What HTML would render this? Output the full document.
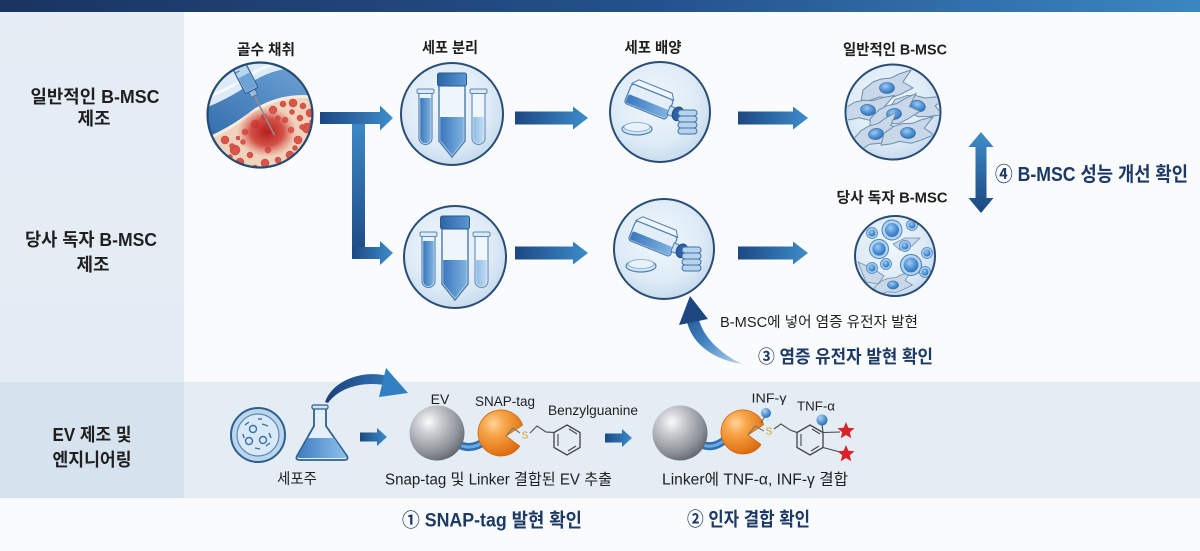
<!DOCTYPE html>
<html><head><meta charset="utf-8"><title>B-MSC EV</title>
<style>
html,body{margin:0;padding:0;background:#fafbfc;width:1200px;height:551px;overflow:hidden}
svg{display:block}
text{font-family:"Liberation Sans","Noto Sans CJK KR",sans-serif}
.b{font-weight:700}
.lbl{fill:#1f1f1f}
.nv{fill:#1d3a66;font-weight:700}
</style></head><body>
<svg width="1200" height="551" viewBox="0 0 1200 551" xmlns="http://www.w3.org/2000/svg" xmlns:xlink="http://www.w3.org/1999/xlink">
<defs>
<linearGradient id="topbar" x1="0" x2="1" y1="0" y2="0"><stop offset="0" stop-color="#1a3461"/><stop offset="0.55" stop-color="#24528c"/><stop offset="1" stop-color="#3b87c1"/></linearGradient>
<linearGradient id="lp" x1="0" x2="0" y1="0" y2="1"><stop offset="0" stop-color="#e6edf5"/><stop offset="1" stop-color="#e3ebf4"/></linearGradient>
<radialGradient id="cf" cx="0.45" cy="0.4" r="0.6"><stop offset="0" stop-color="#f1f7fc"/><stop offset="0.7" stop-color="#deebf6"/><stop offset="1" stop-color="#c8dcee"/></radialGradient>
<linearGradient id="ah" x1="0" x2="1" y1="0" y2="0"><stop offset="0" stop-color="#1c4883"/><stop offset="1" stop-color="#3d8dcb"/></linearGradient>
<linearGradient id="av" x1="0" x2="0" y1="0" y2="1"><stop offset="0" stop-color="#3f8cc8"/><stop offset="1" stop-color="#1d4b86"/></linearGradient>
<linearGradient id="dbl" x1="0" x2="0" y1="0" y2="1"><stop offset="0" stop-color="#3f8dc9"/><stop offset="1" stop-color="#1b4780"/></linearGradient>
<radialGradient id="sph" cx="0.35" cy="0.3" r="0.75"><stop offset="0" stop-color="#fbfbfb"/><stop offset="0.3" stop-color="#c9ccd0"/><stop offset="0.75" stop-color="#8d9198"/><stop offset="1" stop-color="#62666d"/></radialGradient>
<radialGradient id="org" cx="0.35" cy="0.3" r="0.75"><stop offset="0" stop-color="#ffd49a"/><stop offset="0.35" stop-color="#f7a447"/><stop offset="1" stop-color="#dc6a0c"/></radialGradient>
<radialGradient id="nuc" cx="0.4" cy="0.35" r="0.7"><stop offset="0" stop-color="#9ccaf0"/><stop offset="0.6" stop-color="#4c8fd3"/><stop offset="1" stop-color="#2f6fb5"/></radialGradient>
<radialGradient id="ball" cx="0.35" cy="0.3" r="0.7"><stop offset="0" stop-color="#a9d3f5"/><stop offset="1" stop-color="#2b6fb8"/></radialGradient>
<linearGradient id="liq" x1="0" x2="1"><stop offset="0" stop-color="#3b78bd"/><stop offset="1" stop-color="#7fb2e0"/></linearGradient>
<linearGradient id="liq2" x1="0" x2="1"><stop offset="0" stop-color="#8fbde6"/><stop offset="1" stop-color="#c4dcf2"/></linearGradient>
<linearGradient id="cap" x1="0" x2="1"><stop offset="0" stop-color="#2d64a8"/><stop offset="1" stop-color="#5a97d2"/></linearGradient>
<linearGradient id="band" x1="0" y1="1" x2="1" y2="0"><stop offset="0" stop-color="#2f6aa9"/><stop offset="1" stop-color="#6fa5d8"/></linearGradient>
<radialGradient id="blot" cx="0.5" cy="0.5" r="0.5"><stop offset="0" stop-color="#b51d1a"/><stop offset="0.55" stop-color="#cc3a33" stop-opacity="0.85"/><stop offset="1" stop-color="#e06a5a" stop-opacity="0"/></radialGradient>
<linearGradient id="curv3" gradientUnits="userSpaceOnUse" x1="742" y1="364" x2="688" y2="300"><stop offset="0" stop-color="#b5d3ee"/><stop offset="0.5" stop-color="#3f83c2"/><stop offset="1" stop-color="#1c4680"/></linearGradient>
<linearGradient id="curvB" gradientUnits="userSpaceOnUse" x1="325" y1="400" x2="408" y2="390"><stop offset="0" stop-color="#1c3f78"/><stop offset="1" stop-color="#3583c4"/></linearGradient>
<linearGradient id="flq" x1="0" x2="1"><stop offset="0" stop-color="#3f7dc2"/><stop offset="1" stop-color="#8ec0ea"/></linearGradient>

<path id="star" d="M0,-9 L2.35,-3.24 L8.56,-2.78 L3.8,1.24 L5.29,7.28 L0,4 L-5.29,7.28 L-3.8,1.24 L-8.56,-2.78 L-2.35,-3.24 Z" fill="#d8232a"/>

<clipPath id="cpBone"><circle cx="260" cy="115" r="52"/></clipPath>
<clipPath id="cpCell"><circle cx="893" cy="112" r="46"/></clipPath>
<clipPath id="cpCus"><circle cx="895" cy="256" r="39"/></clipPath>

<g id="tubes">
 <circle r="51" fill="url(#cf)" stroke="#2a4d76" stroke-width="2"/>
 <path d="M-33,-21 L-33,24 A6.5,6.5 0 0 0 -20,24 L-20,-21 Z" fill="#eaf3fb" stroke="#5a86b3" stroke-width="1.2"/>
 <path d="M-31.8,-16 L-31.8,24 A5.3,5.3 0 0 0 -21.2,24 L-21.2,-16 Z" fill="url(#liq)"/>
 <rect x="-35" y="-25" width="17" height="4.5" rx="1.5" fill="#dce9f5" stroke="#5a86b3" stroke-width="1"/>
 <path d="M20,-21 L20,24 A6.5,6.5 0 0 0 33,24 L33,-21 Z" fill="#eef5fb" stroke="#6a93bd" stroke-width="1.2"/>
 <path d="M21.2,3 L21.2,24 A5.3,5.3 0 0 0 31.8,24 L31.8,3 Z" fill="url(#liq2)"/>
 <rect x="18" y="-25" width="17" height="4.5" rx="1.5" fill="#dce9f5" stroke="#5a86b3" stroke-width="1"/>
 <path d="M-13,-29 L-13,27 L0,43 L13,27 L13,-29 Z" fill="#eef5fb" stroke="#4a79aa" stroke-width="1.4"/>
 <path d="M-11.8,3 L-11.8,26.5 L0,41 L11.8,26.5 L11.8,3 Z" fill="url(#liq)"/>
 <rect x="-14.5" y="-41" width="29" height="13" rx="2" fill="url(#cap)" stroke="#2c5a8c" stroke-width="1"/>
</g>

<g id="culture">
 <circle r="50" fill="url(#cf)" stroke="#2a4d76" stroke-width="2"/>
 <g transform="translate(-9,-9) rotate(22)">
  <path d="M-25,-11 L-20,-17 L16,-17 L20,-11 Z" fill="#eef5fc" stroke="#4f7fb0" stroke-width="1"/>
  <rect x="-25" y="-11" width="45" height="21" rx="3" fill="#e3eef9" stroke="#4f7fb0" stroke-width="1.2"/>
  <rect x="-24" y="0" width="43" height="9" rx="2" fill="url(#liq)"/>
  <rect x="19" y="-4.5" width="7" height="9" fill="#cfe1f3" stroke="#4f7fb0" stroke-width="1"/>
  <ellipse cx="29" cy="0" rx="5.5" ry="7" fill="#2d62a6" stroke="#1f4a80" stroke-width="1"/>
 </g>
 <ellipse cx="-23" cy="17" rx="15" ry="6" fill="#d3e5f5" stroke="#4f7fb0" stroke-width="1.2"/>
 <ellipse cx="-23" cy="15" rx="13" ry="4.5" fill="#e8f2fb" stroke="#7ea6cc" stroke-width="0.8"/>
 <rect x="18" y="-2" width="19" height="6" rx="3" fill="#b8d3ed" stroke="#3f70a5" stroke-width="1"/>
 <rect x="18" y="4" width="19" height="6" rx="3" fill="#b8d3ed" stroke="#3f70a5" stroke-width="1"/>
 <rect x="18" y="10" width="19" height="6" rx="3" fill="#b8d3ed" stroke="#3f70a5" stroke-width="1"/>
 <rect x="18" y="16" width="19" height="6" rx="3" fill="#b8d3ed" stroke="#3f70a5" stroke-width="1"/>
</g>

<g id="cell">
 <path d="M-24,2 L-14,-6 L-6,-9 L4,-10 L12,-14 L24,-18 L16,-6 L26,0 L14,6 L4,10 L-8,9 L-16,12 L-26,14 Z" fill="#c8d8e8" stroke="#6f8eae" stroke-width="1"/>
 <ellipse rx="7.5" ry="5.5" fill="url(#nuc)" stroke="#2f64a3" stroke-width="0.6"/>
</g>
<g id="rcell">
 <circle r="10" fill="#b3d3f1" stroke="#4a82be" stroke-width="1"/>
 <circle r="7" fill="url(#nuc)"/>
</g>
<g id="scell">
 <circle r="5.5" fill="#a9cdef" stroke="#4a82be" stroke-width="0.8"/>
 <circle r="3.5" fill="url(#nuc)"/>
</g>
</defs>

<!-- backgrounds -->
<rect x="0" y="0" width="1200" height="551" fill="#fafbfc"/>
<rect x="0" y="12" width="184" height="370" fill="url(#lp)"/>
<rect x="184" y="382" width="1016" height="116" fill="#e4ecf4"/>
<rect x="0" y="382" width="184" height="116" fill="#d6e3ee"/>
<rect x="0" y="0" width="1200" height="12" fill="url(#topbar)"/>

<!-- left labels -->
<text class="b lbl" x="95" y="97" font-size="18" text-anchor="middle" dominant-baseline="central" textLength="129" lengthAdjust="spacingAndGlyphs">일반적인 B-MSC</text>
<text class="b lbl" x="94" y="119" font-size="18" text-anchor="middle" dominant-baseline="central">제조</text>
<text class="b lbl" x="91" y="240" font-size="18" text-anchor="middle" dominant-baseline="central" textLength="132" lengthAdjust="spacingAndGlyphs">당사 독자 B-MSC</text>
<text class="b lbl" x="93" y="265" font-size="18" text-anchor="middle" dominant-baseline="central">제조</text>
<text class="b lbl" x="92" y="435" font-size="18" text-anchor="middle" dominant-baseline="central" textLength="79" lengthAdjust="spacingAndGlyphs">EV 제조 및</text>
<text class="b lbl" x="92" y="460" font-size="18" text-anchor="middle" dominant-baseline="central" textLength="79" lengthAdjust="spacingAndGlyphs">엔지니어링</text>

<!-- step labels -->
<text class="b lbl" x="266" y="50" font-size="15" text-anchor="middle" dominant-baseline="central" textLength="58" lengthAdjust="spacingAndGlyphs">골수 채취</text>
<text class="b lbl" x="450" y="48" font-size="15" text-anchor="middle" dominant-baseline="central" textLength="56" lengthAdjust="spacingAndGlyphs">세포 분리</text>
<text class="b lbl" x="653" y="48" font-size="15" text-anchor="middle" dominant-baseline="central" textLength="57" lengthAdjust="spacingAndGlyphs">세포 배양</text>
<text class="b lbl" x="895" y="50" font-size="15" text-anchor="middle" dominant-baseline="central" textLength="104" lengthAdjust="spacingAndGlyphs">일반적인 B-MSC</text>
<text class="b lbl" x="892" y="198" font-size="15" text-anchor="middle" dominant-baseline="central" textLength="111" lengthAdjust="spacingAndGlyphs">당사 독자 B-MSC</text>

<!-- bone marrow circle -->
<circle cx="260" cy="115" r="53" fill="#dcebf7"/>
<g clip-path="url(#cpBone)">
 <rect x="205" y="60" width="110" height="110" fill="#dcebf7"/>
 <path d="M200,100 Q232,88 255,72 Q282,57 320,61" fill="none" stroke="#f4f9fd" stroke-width="3"/>
 <path d="M200,142 Q230,130 255,110 Q285,92 320,98 L320,175 L200,175 Z" fill="#f0d3bd"/>
 <path d="M200,110 Q232,98 255,80 Q282,64 320,68 L320,98 Q285,92 255,110 Q230,130 200,142 Z" fill="url(#band)"/>
 <path d="M200,142 Q230,130 255,110 Q285,92 320,98" fill="none" stroke="#f7ecdf" stroke-width="3"/>
 <g fill="#d9554a" stroke="#c0403a" stroke-width="0.5">
  <circle cx="225" cy="140" r="4"/><circle cx="235" cy="150" r="5"/><circle cx="222" cy="155" r="3"/>
  <circle cx="240" cy="162" r="4"/><circle cx="250" cy="155" r="3"/><circle cx="228" cy="165" r="3"/>
  <circle cx="245" cy="132" r="3"/><circle cx="255" cy="124" r="4"/><circle cx="264" cy="117" r="3"/>
  <circle cx="273" cy="110" r="4"/><circle cx="283" cy="104" r="3"/><circle cx="293" cy="103" r="4"/>
  <circle cx="303" cy="106" r="3"/><circle cx="310" cy="113" r="4"/><circle cx="300" cy="118" r="3"/>
  <circle cx="307" cy="128" r="5"/><circle cx="298" cy="140" r="4"/><circle cx="305" cy="150" r="3"/>
  <circle cx="290" cy="155" r="4"/><circle cx="278" cy="160" r="3"/><circle cx="265" cy="163" r="4"/>
  <circle cx="255" cy="168" r="3"/><circle cx="285" cy="120" r="3"/><circle cx="232" cy="146" r="2.5"/>
  <circle cx="300" cy="160" r="3"/><circle cx="215" cy="150" r="3"/><circle cx="268" cy="150" r="3"/>
  <circle cx="291" cy="130" r="3"/><circle cx="312" cy="140" r="3"/><circle cx="243" cy="142" r="2.5"/>
  <circle cx="218" cy="162" r="2.5"/><circle cx="230" cy="157" r="2.5"/><circle cx="248" cy="170" r="3"/>
  <circle cx="262" cy="172" r="2.5"/><circle cx="274" cy="168" r="3"/><circle cx="286" cy="165" r="2.5"/>
  <circle cx="295" cy="148" r="2.5"/><circle cx="312" cy="122" r="2.5"/><circle cx="315" cy="132" r="2.5"/>
  <circle cx="292" cy="112" r="2.5"/><circle cx="278" cy="118" r="2.5"/><circle cx="302" cy="127" r="2.5"/>
  <circle cx="210" cy="146" r="2.5"/><circle cx="238" cy="138" r="2"/><circle cx="306" cy="158" r="2.5"/>
 </g>
 <ellipse cx="267" cy="132" rx="30" ry="25" fill="url(#blot)"/>
 <g transform="translate(254,95) rotate(-27)">
  <line x1="0" y1="0" x2="0" y2="45" stroke="#8a8f96" stroke-width="1.6"/>
  <rect x="-3.5" y="-6" width="7" height="7" fill="#9ab9da" stroke="#3b6a9e" stroke-width="0.8"/>
  <rect x="-7" y="-48" width="14" height="43" rx="1.5" fill="#b9d5ef" stroke="#2f5f95" stroke-width="1.2"/>
  <rect x="-6" y="-22" width="12" height="16" fill="#6fa3d6"/>
  <g stroke="#2f5f95" stroke-width="0.8"><line x1="-7" y1="-40" x2="-2" y2="-40"/><line x1="-7" y1="-34" x2="-2" y2="-34"/><line x1="-7" y1="-28" x2="-2" y2="-28"/></g>
 </g>
</g>
<circle cx="260" cy="115" r="52.5" fill="none" stroke="#274a72" stroke-width="2.2"/>

<!-- tubes & culture -->
<use xlink:href="#tubes" x="452" y="114"/>
<use xlink:href="#tubes" x="455" y="257"/>
<use xlink:href="#culture" x="660" y="112"/>
<use xlink:href="#culture" x="664" y="249"/>

<!-- normal B-MSC cells -->
<circle cx="893" cy="112" r="47.5" fill="url(#cf)"/>
<g clip-path="url(#cpCell)">
 <use xlink:href="#cell" transform="translate(887,88)"/>
 <use xlink:href="#cell" transform="translate(918,106) rotate(20)"/>
 <use xlink:href="#cell" transform="translate(868,110) rotate(8)"/>
 <use xlink:href="#cell" transform="translate(894,114) rotate(-6)"/>
 <use xlink:href="#cell" transform="translate(876,134) rotate(-10)"/>
 <use xlink:href="#cell" transform="translate(908,133) rotate(4)"/>
</g>
<circle cx="893" cy="112" r="47.5" fill="none" stroke="#2a4d76" stroke-width="2"/>

<!-- custom B-MSC cells -->
<circle cx="895" cy="256" r="40" fill="url(#cf)"/>
<g clip-path="url(#cpCus)">
 <path d="M893,244 L905,238 L920,238 L912,246 L900,250 Z" fill="#c8d8e8" stroke="#6f8eae" stroke-width="0.8"/>
 <path d="M858,262 L872,268 L884,276 L878,284 L866,282 Z" fill="#c8d8e8" stroke="#6f8eae" stroke-width="0.8"/>
 <use xlink:href="#cell" transform="translate(893,285) scale(0.75)"/>
 <use xlink:href="#rcell" transform="translate(892,230)"/>
 <use xlink:href="#rcell" transform="translate(879,249) scale(0.95)"/>
 <use xlink:href="#rcell" transform="translate(911,265) scale(1.05)"/>
 <use xlink:href="#scell" transform="translate(872,233)"/>
 <use xlink:href="#scell" transform="translate(912,225)"/>
 <use xlink:href="#scell" transform="translate(927,253)"/>
 <use xlink:href="#scell" transform="translate(886,264)"/>
 <use xlink:href="#scell" transform="translate(872,268)"/>
 <use xlink:href="#scell" transform="translate(905,246)"/>
 <use xlink:href="#scell" transform="translate(925,272)"/>
</g>
<circle cx="895" cy="256" r="40" fill="none" stroke="#2a4d76" stroke-width="2"/>

<!-- T-arrow -->
<rect x="352" y="118" width="13" height="135" fill="url(#av)"/>
<path d="M320,112 L380,112 L380,105.5 L393,118 L380,130.5 L380,124 L320,124 Z" fill="url(#ah)"/>
<path d="M352,247 L380,247 L380,241 L393,253 L380,265 L380,259 L352,259 Z" fill="url(#ah)"/>

<!-- row arrows -->
<path d="M515,111.5 L573,111.5 L573,106.5 L588,118 L573,129.5 L573,124.5 L515,124.5 Z" fill="url(#ah)"/>
<path d="M738,111.5 L793,111.5 L793,106.5 L808,118 L793,129.5 L793,124.5 L738,124.5 Z" fill="url(#ah)"/>
<path d="M515,246.5 L573,246.5 L573,241.5 L588,253 L573,264.5 L573,259.5 L515,259.5 Z" fill="url(#ah)"/>
<path d="M738,246.5 L793,246.5 L793,241.5 L808,253 L793,264.5 L793,259.5 L738,259.5 Z" fill="url(#ah)"/>

<!-- double arrow -->
<path d="M981,132 L993.5,147 L986.5,147 L986.5,198 L993.5,198 L981,213 L968.5,198 L975.5,198 L975.5,147 L968.5,147 Z" fill="url(#dbl)"/>
<text class="nv" x="995" y="175" font-size="20" dominant-baseline="central" textLength="193" lengthAdjust="spacingAndGlyphs">④ B-MSC 성능 개선 확인</text>

<!-- curved arrow 3 -->
<path d="M742,364 C716,360 693,346 687,322 L699,320 C704,338 721,354 742,364 Z" fill="url(#curv3)"/>
<path d="M679,325 L690,296 L708,319 Z" fill="#1d4781"/>
<text class="lbl" x="720" y="323" font-size="14.5" dominant-baseline="central" textLength="198" lengthAdjust="spacingAndGlyphs">B-MSC에 넣어 염증 유전자 발현</text>
<text class="nv" x="758" y="357" font-size="18" dominant-baseline="central" textLength="175" lengthAdjust="spacingAndGlyphs">③ 염증 유전자 발현 확인</text>

<!-- bottom: petri + flask -->
<circle cx="258" cy="435" r="27" fill="#bcd6ee" stroke="#2f5f90" stroke-width="2"/>
<circle cx="258" cy="435" r="21" fill="#d9e9f7" stroke="#5a88b5" stroke-width="1.2"/>
<g fill="none" stroke="#3b6fa5" stroke-width="1.4">
 <circle cx="253" cy="429" r="3.5"/><circle cx="249" cy="441" r="3.5"/><circle cx="263" cy="440" r="3.5"/>
 <line x1="245" y1="425" x2="249" y2="422"/><line x1="262" y1="424" x2="268" y2="426"/><line x1="269" y1="433" x2="271" y2="438"/>
 <line x1="243" y1="434" x2="244" y2="438"/><line x1="255" y1="448" x2="260" y2="449"/><line x1="266" y1="446" x2="270" y2="443"/>
 <line x1="258" y1="419" x2="262" y2="419"/>
</g>
<path d="M314,408 L326,408 L326,426 L347,456 Q349,460 344,460 L300,460 Q295,460 297,456 L314,426 Z" fill="#e4eff9" stroke="#2f5f90" stroke-width="1.8"/>
<path d="M308,438 L334,438 L346,456 Q347,458 344,458 L300,458 Q297,458 298,456 Z" fill="url(#flq)"/>
<rect x="312" y="405" width="16" height="4" rx="1.5" fill="#cfe1f3" stroke="#2f5f90" stroke-width="1.2"/>
<text class="lbl" x="297" y="479" font-size="15" text-anchor="middle" dominant-baseline="central" textLength="40" lengthAdjust="spacingAndGlyphs">세포주</text>

<!-- curved arrow bottom -->
<path d="M325,402 C332,382 360,369 388,376 L390,386 C362,380 339,388 328,403 Z" fill="url(#curvB)"/>
<path d="M386,368 L408,393 L379,397 Z" fill="#3180c2"/>

<!-- small arrows -->
<path d="M360,432.5 L377,432.5 L377,428 L387,437 L377,446 L377,441.5 L360,441.5 Z" fill="url(#ah)"/>
<path d="M605,433.5 L622,433.5 L622,429 L632,438 L622,447 L622,442.5 L605,442.5 Z" fill="url(#ah)"/>

<!-- EV construct 1 -->
<path d="M456,443 Q470,452 485,441" fill="none" stroke="#2f6fb3" stroke-width="8" stroke-linecap="round"/>
<path d="M456,443 Q470,452 485,441" fill="none" stroke="#6fa8df" stroke-width="3" stroke-linecap="round"/>
<circle cx="437" cy="433" r="27.5" fill="url(#sph)"/>
<path d="M522.6,425.1 A23,23 0 1 0 519.8,446.2 L506,436 Z" fill="url(#org)" stroke="#cf640c" stroke-width="0.8"/>
<polyline points="506,436 513,428 520,433" fill="none" stroke="#7a7a6a" stroke-width="1.2"/>
<text x="525" y="436" font-size="10" fill="#c9a227" text-anchor="middle" dominant-baseline="central">S</text>
<polyline points="530,433 537,426 546,432 554,432.5" fill="none" stroke="#555" stroke-width="1.2"/>
<polygon points="567,425 580,432.5 580,447.5 567,455 554,447.5 554,432.5" fill="none" stroke="#444" stroke-width="1.3"/>
<g stroke="#444" stroke-width="1.1"><line x1="569" y1="429" x2="577" y2="434"/><line x1="576" y1="446" x2="568" y2="451"/><line x1="558" y1="446" x2="558" y2="434"/></g>
<text class="lbl" x="440" y="399" font-size="14" text-anchor="middle" dominant-baseline="central">EV</text>
<text class="lbl" x="505" y="401" font-size="14" text-anchor="middle" dominant-baseline="central" textLength="60" lengthAdjust="spacingAndGlyphs">SNAP-tag</text>
<text class="lbl" x="593" y="410" font-size="14" text-anchor="middle" dominant-baseline="central" textLength="90" lengthAdjust="spacingAndGlyphs">Benzylguanine</text>
<text class="lbl" x="385" y="480" font-size="15.5" dominant-baseline="central" textLength="227" lengthAdjust="spacingAndGlyphs">Snap-tag 및 Linker 결합된 EV 추출</text>

<!-- EV construct 2 -->
<path d="M699,443 Q712,451 726,439" fill="none" stroke="#2f6fb3" stroke-width="8" stroke-linecap="round"/>
<path d="M699,443 Q712,451 726,439" fill="none" stroke="#6fa8df" stroke-width="3" stroke-linecap="round"/>
<circle cx="680" cy="433" r="27.5" fill="url(#sph)"/>
<path d="M763.7,424.5 A22,22 0 1 0 761,444.6 L748,435 Z" fill="url(#org)" stroke="#cf640c" stroke-width="0.8"/>
<line x1="761" y1="423" x2="765" y2="416" stroke="#555" stroke-width="1"/>
<circle cx="766" cy="413" r="5" fill="url(#ball)"/>
<polyline points="748,435 755,426 764,431" fill="none" stroke="#7a7a6a" stroke-width="1.2"/>
<text x="769" y="432" font-size="10" fill="#c9a227" text-anchor="middle" dominant-baseline="central">S</text>
<polyline points="774,429 781,424 790,430 797,432.5" fill="none" stroke="#555" stroke-width="1.2"/>
<polygon points="810,425 823,432.5 823,447.5 810,455 797,447.5 797,432.5" fill="none" stroke="#444" stroke-width="1.3"/>
<g stroke="#444" stroke-width="1.1"><line x1="812" y1="429" x2="820" y2="434"/><line x1="819" y1="446" x2="811" y2="451"/><line x1="801" y1="446" x2="801" y2="434"/></g>
<line x1="823" y1="432.5" x2="822" y2="424" stroke="#444" stroke-width="1.1"/>
<circle cx="822" cy="420" r="5.5" fill="url(#ball)"/>
<line x1="823" y1="432.5" x2="840" y2="432" stroke="#444" stroke-width="1.1"/>
<line x1="823" y1="447.5" x2="840" y2="452" stroke="#444" stroke-width="1.1"/>
<use xlink:href="#star" transform="translate(846,431)"/>
<use xlink:href="#star" transform="translate(846,454)"/>
<text class="lbl" x="769" y="398" font-size="13" text-anchor="middle" dominant-baseline="central" textLength="35" lengthAdjust="spacingAndGlyphs">INF-γ</text>
<text class="lbl" x="816" y="406" font-size="13" text-anchor="middle" dominant-baseline="central" textLength="38" lengthAdjust="spacingAndGlyphs">TNF-α</text>
<text class="lbl" x="662" y="480" font-size="15.5" dominant-baseline="central" textLength="186" lengthAdjust="spacingAndGlyphs">Linker에 TNF-α, INF-γ 결합</text>

<!-- bottom confirmations -->
<text class="nv" x="402" y="521" font-size="19" dominant-baseline="central" textLength="180" lengthAdjust="spacingAndGlyphs">① SNAP-tag 발현 확인</text>
<text class="nv" x="687" y="520" font-size="19" dominant-baseline="central" textLength="123" lengthAdjust="spacingAndGlyphs">② 인자 결합 확인</text>
</svg>
</body></html>
